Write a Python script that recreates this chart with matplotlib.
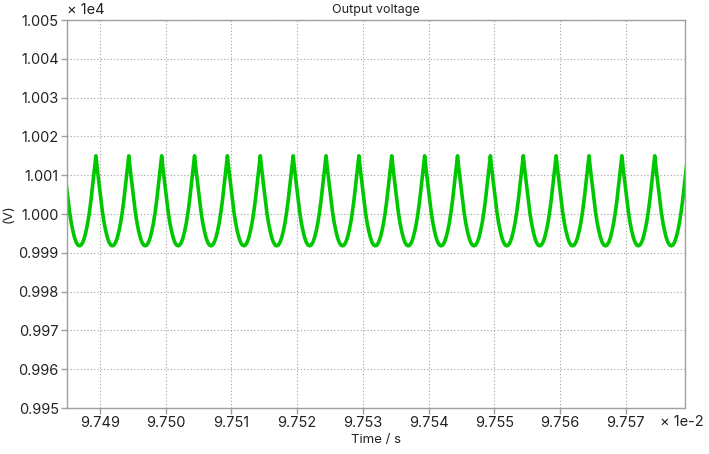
import numpy as np
import matplotlib
matplotlib.use('Agg')
import matplotlib.pyplot as plt

# Output voltage ripple
# time in units of 1e-2 s, voltage in units of 1e4 V

x_start = 9.7485
x_end = 9.7579
first_peak = 9.74894
ripple_period = 0.0005
n_peaks = 18

# one ripple cycle, peak to peak (phase 0 -> 1)
cycle_phase = [0.0, 0.05, 0.10, 0.15, 0.20, 0.25, 0.30, 0.35, 0.40, 0.45, 0.50,
               0.55, 0.60, 0.65, 0.70, 0.75, 0.80, 0.85, 0.90, 0.95]
cycle_volt = [1.00150, 1.00110, 1.00074, 1.00036, 1.00004, 0.99977, 0.99956,
              0.99939, 0.99927, 0.99920, 0.99918, 0.99920, 0.99927, 0.99939,
              0.99956, 0.99977, 1.00004, 1.00036, 1.00074, 1.00110]

xticks = [9.749, 9.750, 9.751, 9.752, 9.753, 9.754, 9.755, 9.756, 9.757]
yticks = [0.995, 0.996, 0.997, 0.998, 0.999, 1.000, 1.001, 1.002, 1.003, 1.004, 1.005]

# lay the cycle out at every peak, including the partial ones at the ends
t, v = [], []
for k in range(-1, n_peaks):
    t0 = first_peak + k * ripple_period
    for p, val in zip(cycle_phase, cycle_volt):
        t.append(t0 + p * ripple_period)
        v.append(val)
t.append(first_peak + n_peaks * ripple_period)
v.append(cycle_volt[0])
t = np.array(t)
v = np.array(v)

plt.rcParams['font.family'] = ['Inter', 'DejaVu Sans']

fig = plt.figure(figsize=(7.09, 4.54), dpi=100)
ax = fig.add_axes([67 / 709, 1 - 408 / 454, 618 / 709, 388 / 454])

ax.plot(t, v, color='#00c800', linewidth=2.6, solid_joinstyle='round')

ax.set_xlim(x_start, x_end)
ax.set_ylim(0.995, 1.005)
ax.set_xticks(xticks)
ax.set_xticklabels(['%.3f' % x for x in xticks])
ax.set_yticks(yticks)
ax.set_yticklabels(['%.3f' % y for y in yticks])

ax.grid(True, color='#a0a0a0', linestyle=(0, (1, 2)), linewidth=0.8)
for s in ax.spines.values():
    s.set_color('#a0a0a0')
    s.set_linewidth(1.0)
ax.tick_params(colors='#a0a0a0', labelcolor='#222222', labelsize=10.5,
               length=4.5, width=1, pad=1.5)

ax.set_title('Output voltage', fontsize=9, color='#222222', pad=5)
ax.set_xlabel('Time / s', fontsize=9.5, color='#222222', labelpad=3)
ax.set_ylabel('(V)', fontsize=9.5, color='#222222', labelpad=3)

ax.text(0.0, 1.008, '× 1e4', transform=ax.transAxes, fontsize=10.5,
        color='#222222', ha='left', va='bottom')
ax.text(0.995, -0.018, '× 1e-2', transform=ax.transAxes, fontsize=10.5,
        color='#222222', ha='center', va='top')

fig.savefig('out.png', dpi=100)
